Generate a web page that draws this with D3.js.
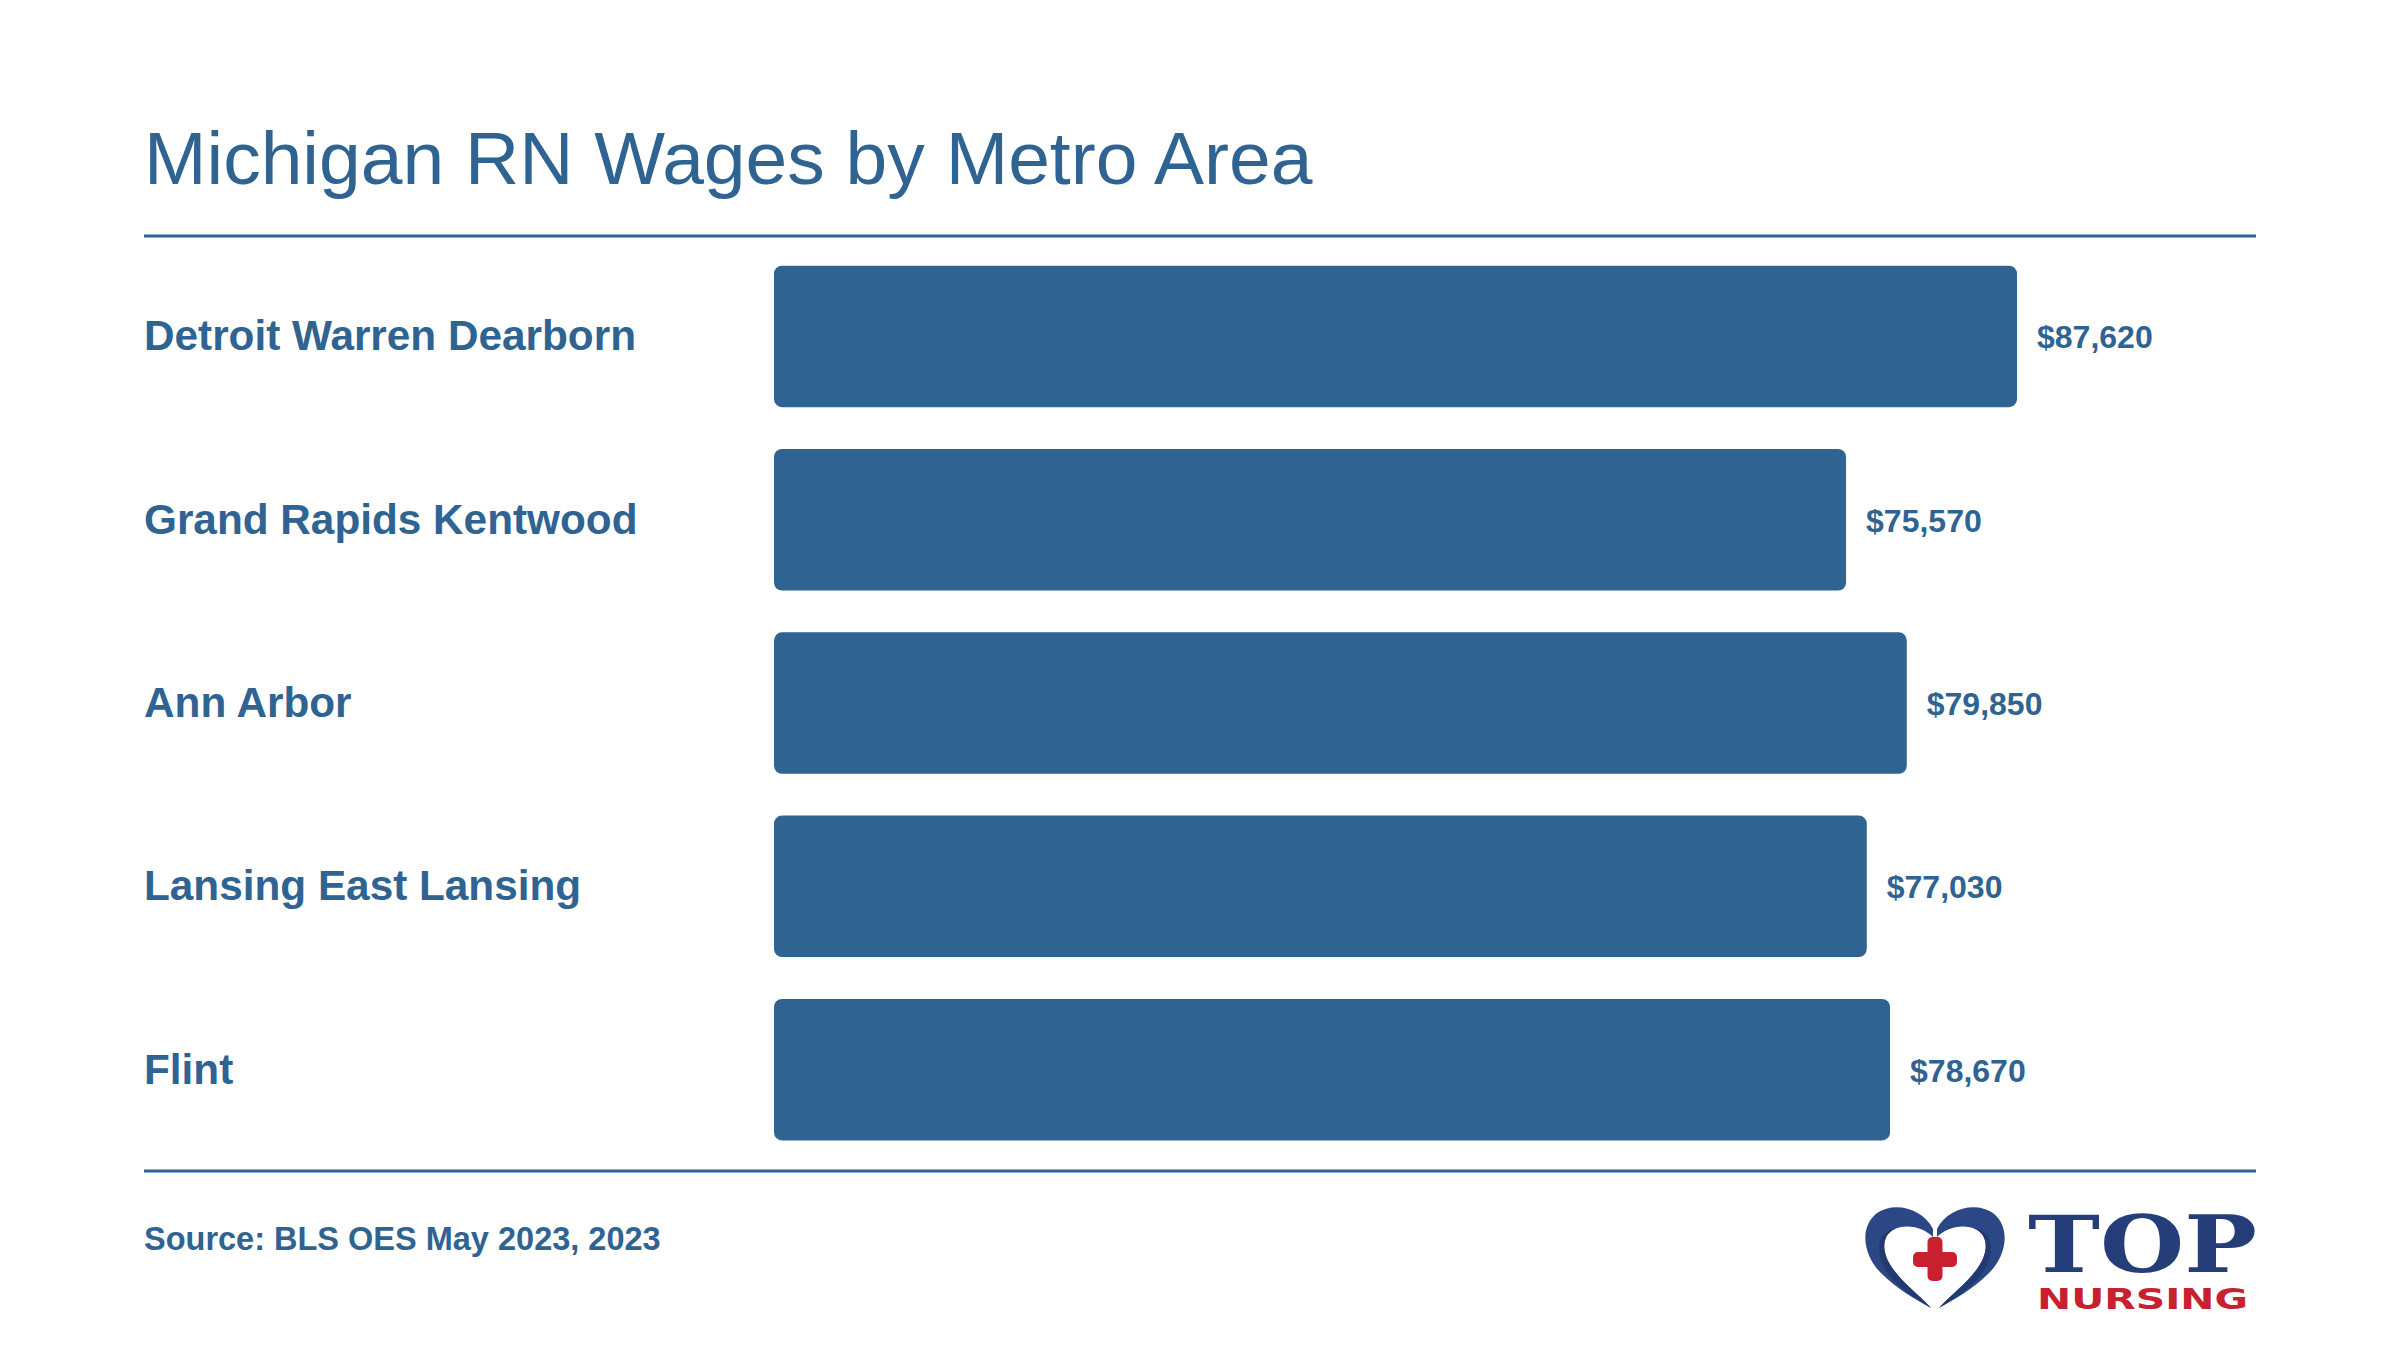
<!DOCTYPE html>
<html>
<head>
<meta charset="utf-8">
<script src="https://cdn.jsdelivr.net/npm/d3@7"></script>
<style>
  html, body { margin: 0; padding: 0; background: #ffffff; }
  svg { display: block; }
</style>
</head>
<body>
<script>
// ---- data ----
const categories = ["Detroit Warren Dearborn", "Grand Rapids Kentwood", "Ann Arbor", "Lansing East Lansing", "Flint"];
const wages = [87620, 75570, 79850, 77030, 78670];
const titleText = "Michigan RN Wages by Metro Area";
const sourceText = "Source: BLS OES May 2023, 2023";

const W = 2400, H = 1350;
const blue = "#2f6392";
const font = "'Liberation Sans', Arial, Helvetica, sans-serif";

const svg = d3.select("body").append("svg").attr("width", W).attr("height", H);
svg.append("rect").attr("width", W).attr("height", H).attr("fill", "#fff");

// title
svg.append("text").attr("x", 144).attr("y", 184)
  .attr("font-family", font).attr("font-size", 75).attr("fill", blue)
  .text(titleText);

// rules
svg.append("line").attr("x1", 144).attr("x2", 2256).attr("y1", 236).attr("y2", 236)
  .attr("stroke", blue).attr("stroke-width", 3);
svg.append("line").attr("x1", 144).attr("x2", 2256).attr("y1", 1171).attr("y2", 1171)
  .attr("stroke", blue).attr("stroke-width", 3);

// scales
const y = d3.scaleBand().domain(categories).range([244.8, 1161.3]).paddingInner(0.228).paddingOuter(0.114);
const x = d3.scaleLinear().domain([0, d3.max(wages)]).range([774, 2017]);

const data = categories.map((c, i) => ({ c, v: wages[i] }));

svg.append("g").selectAll("rect").data(data).join("rect")
  .attr("x", x(0)).attr("y", d => y(d.c))
  .attr("width", d => x(d.v) - x(0)).attr("height", y.bandwidth())
  .attr("rx", 8).attr("ry", 8).attr("fill", blue);

svg.append("g").selectAll("text").data(data).join("text")
  .attr("x", 144).attr("y", d => y(d.c) + y.bandwidth() / 2 + 14)
  .attr("font-family", font).attr("font-weight", "bold").attr("font-size", 42.3)
  .attr("fill", blue).text(d => d.c);

const fmt = d3.format("$,");
svg.append("g").selectAll("text").data(data).join("text")
  .attr("x", d => x(d.v) + 20).attr("y", d => y(d.c) + y.bandwidth() / 2 + 12)
  .attr("font-family", font).attr("font-weight", "bold").attr("font-size", 32)
  .attr("fill", blue).text(d => fmt(d.v));

// source
svg.append("text").attr("x", 144).attr("y", 1250)
  .attr("font-family", font).attr("font-weight", "bold").attr("font-size", 32.5)
  .attr("fill", blue).text(sourceText);

// logo
const logo = svg.append("g").attr("transform", "translate(1867,1207)");
const halfPath = "M 66 22 C 56 2, 28 -6, 10 6 C -8 20, -4 48, 14 66 C 30 82, 48 92, 64 101 C 52 88, 36 76, 26 62 C 14 46, 14 28, 28 22 C 42 16, 58 22, 66 30 Z";
const innerShade = "M 28 22 C 14 28, 14 46, 26 62 C 36 76, 52 88, 64 101 C 46 90, 24 76, 16 58 C 8 40, 12 24, 28 22 Z";
logo.append("path").attr("d", halfPath).attr("fill", "#2b4785");
logo.append("path").attr("d", innerShade).attr("fill", "#223a70");
const right = logo.append("g").attr("transform", "translate(136,0) scale(-1,1)");
right.append("path").attr("d", halfPath).attr("fill", "#2b4785");
right.append("path").attr("d", innerShade).attr("fill", "#223a70");
// cross
logo.append("rect").attr("x", 68 - 22).attr("y", 52 - 7).attr("width", 44).attr("height", 15).attr("rx", 5).attr("fill", "#c8202f");
logo.append("rect").attr("x", 68 - 7.5).attr("y", 52 - 22).attr("width", 15).attr("height", 44).attr("rx", 5).attr("fill", "#c8202f");

svg.append("text").attr("x", 2028).attr("y", 1272)
  .attr("font-family", "'DejaVu Serif', serif").attr("font-weight", "bold").attr("font-size", 78)
  .attr("textLength", 229).attr("lengthAdjust", "spacingAndGlyphs")
  .attr("fill", "#253d78").text("TOP");
svg.append("text").attr("x", 2037).attr("y", 1309)
  .attr("font-family", "'DejaVu Sans', sans-serif").attr("font-weight", "bold").attr("font-size", 29)
  .attr("textLength", 211).attr("lengthAdjust", "spacingAndGlyphs")
  .attr("fill", "#c8202f").text("NURSING");
</script>
</body>
</html>
